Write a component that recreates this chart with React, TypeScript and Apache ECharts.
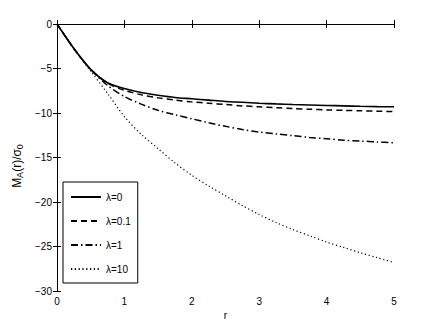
import React, { useEffect, useRef } from "react";
import * as echarts from "echarts";

const rValues = [0, 0.25, 0.5, 0.75, 1, 1.25, 1.5, 1.75, 2, 2.25, 2.5, 2.75, 3, 3.25, 3.5, 3.75, 4, 4.25, 4.5, 4.75, 5];
const lambda0 = [0, -2.75, -5.1, -6.6, -7.25, -7.7, -8.0, -8.25, -8.4, -8.55, -8.7, -8.8, -8.9, -8.98, -9.05, -9.1, -9.15, -9.2, -9.25, -9.28, -9.3];
const lambda01 = [0, -2.75, -5.1, -6.65, -7.45, -7.95, -8.3, -8.55, -8.75, -8.9, -9.05, -9.2, -9.3, -9.4, -9.5, -9.58, -9.65, -9.7, -9.75, -9.8, -9.85];
const lambda1 = [0, -2.75, -5.1, -6.9, -8.15, -9.0, -9.7, -10.2, -10.65, -11.1, -11.5, -11.85, -12.15, -12.35, -12.55, -12.75, -12.9, -13.05, -13.15, -13.25, -13.35];
const lambda10 = [0, -2.75, -5.3, -7.8, -10.4, -12.4, -14.0, -15.6, -17.0, -18.2, -19.3, -20.4, -21.4, -22.3, -23.1, -23.8, -24.5, -25.1, -25.7, -26.25, -26.8];
const seriesNames = ["λ=0", "λ=0.1", "λ=1", "λ=10"];

const FONT = "Liberation Sans";

export default function App() {
  const ref = useRef<HTMLDivElement>(null);
  useEffect(() => {
    if (!ref.current) return;
    const chart = echarts.init(ref.current, null, { renderer: "svg" });
    const pair = (vals: number[]) => rValues.map((r, i) => [r, vals[i]]);
    const lineStyles: any[] = [
      { type: "solid", width: 1.6 },
      { type: [6, 4], width: 1.5 },
      { type: [7, 3, 1.5, 3], width: 1.5 },
      { type: [1.2, 2.6], width: 1.2 },
    ];
    const datasets = [lambda0, lambda01, lambda1, lambda10];
    const axisLine = { show: true, lineStyle: { color: "#000", width: 1 } };
    const tick = { show: true, inside: true, length: 4, lineStyle: { color: "#000" } };
    const fmt = (v: number) => String(v).replace("-", "\u2212");
    chart.setOption({
      animation: false,
      textStyle: { fontFamily: FONT },
      grid: { left: 57, right: 42, top: 24, bottom: 37 },
      legend: {
        orient: "vertical",
        left: 63,
        top: 182,
        data: seriesNames,
        itemWidth: 30,
        itemHeight: 10,
        itemGap: 14,
        padding: [10, 7, 9, 7],
        borderColor: "#000",
        borderWidth: 1,
        backgroundColor: "#fff",
        itemStyle: { opacity: 0 },
        textStyle: { fontFamily: FONT, fontSize: 10, color: "#000" },
      },
      xAxis: [
        {
          type: "value", min: 0, max: 5, interval: 1, position: "bottom",
          axisLine, axisTick: tick, splitLine: { show: false },
          axisLabel: { color: "#000", fontSize: 10, margin: 5, fontFamily: FONT, formatter: fmt },
          name: "r", nameLocation: "middle", nameGap: 10,
          nameTextStyle: { color: "#000", fontSize: 10, fontFamily: FONT },
        },
        {
          type: "value", min: 0, max: 5, interval: 1, position: "top",
          axisLine, axisTick: tick, splitLine: { show: false }, axisLabel: { show: false },
        },
      ],
      yAxis: [
        {
          type: "value", min: -30, max: 0, interval: 5, position: "left",
          axisLine, axisTick: tick, splitLine: { show: false },
          axisLabel: { color: "#000", fontSize: 10, margin: 5, fontFamily: FONT, formatter: fmt },
          name: "M{sub|A}(r)/σ{sub|0}", nameLocation: "middle", nameGap: 21,
          nameTextStyle: {
            color: "#000", fontSize: 12, fontFamily: FONT, padding: [0, 17, 0, 0],
            rich: {
              sub: { fontSize: 9, fontFamily: FONT, color: "#000", verticalAlign: "bottom", padding: [6, 0, 0, 0] },
            },
          },
        },
        {
          type: "value", min: -30, max: 0, interval: 5, position: "right",
          axisLine, axisTick: tick, splitLine: { show: false }, axisLabel: { show: false },
        },
      ],
      series: datasets.map((d, i) => ({
        name: seriesNames[i],
        type: "line",
        xAxisIndex: 0,
        yAxisIndex: 0,
        data: pair(d),
        showSymbol: false,
        symbol: "none",
        smooth: 0.3,
        lineStyle: { color: "#000", ...lineStyles[i] },
        itemStyle: { color: "#000" },
        z: 10 - i,
      })),
    });
    return () => chart.dispose();
  }, []);
  return <div ref={ref} style={{ width: 436, height: 328, margin: -8 }} />;
}
